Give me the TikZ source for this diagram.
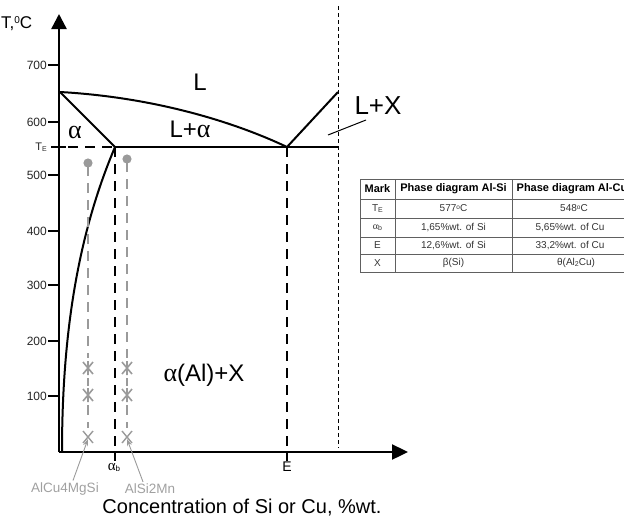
\documentclass[tikz,border=0pt]{standalone}
\usepackage{fontspec}
\setmainfont{Liberation Sans}
\newfontfamily\grk{Liberation Serif}
\usetikzlibrary{arrows.meta}
\definecolor{pingray}{HTML}{9A9A9A}
\definecolor{labgray}{HTML}{A0A0A0}
\definecolor{tabline}{HTML}{606060}
\definecolor{tabtext}{HTML}{333333}
\begin{document}
\begin{tikzpicture}[x=1pt,y=-1pt,
  axisline/.style={line width=2.4pt},
  curve/.style={line width=2pt},
  bdash/.style={line width=2.4pt, dash pattern=on 10pt off 7pt},
  gdash/.style={line width=2pt, pingray, dash pattern=on 10pt off 7pt},
  tdash/.style={line width=0.9pt, dash pattern=on 4pt off 3pt},
  ticklab/.style={font=\fontsize{12}{14}\selectfont, anchor=east, inner sep=0pt, text=black!85},
  phase/.style={font=\fontsize{24}{28}\selectfont, inner sep=0pt},
  glab/.style={font=\fontsize{13.5}{16}\selectfont, inner sep=0pt, text=labgray},
  garrow/.style={line width=0.9pt, pingray, -{Stealth[length=7pt,width=5pt]}},
  thead/.style={font=\bfseries\fontsize{11}{13}\selectfont, inner sep=0pt},
  tcell/.style={font=\fontsize{10}{12}\selectfont, inner sep=0pt, text=tabtext},
  tline/.style={line width=0.7pt, tabline}
]
\useasboundingbox (0,0) rectangle (624,517);
% axes
\coordinate (O) at (59,452);
\coordinate (ytip) at (59,14);
\coordinate (xtip) at (408,452);
\draw[axisline,-{Triangle[length=15pt,width=15pt]}] (O) -- (ytip);
\draw[axisline,-{Triangle[length=16pt,width=15pt]}] (O) -- (xtip);
% y ticks
\foreach \v/\y in {700/65,600/122,500/175,400/231,300/285,200/341,100/396}{
  \draw[line width=2pt] (48,\y) -- (59,\y);
  \node[ticklab] (t\v) at (47,\y) {\v};
}
\draw[line width=2pt] (51,147) -- (66,147);
\node[ticklab] (tTE) at (47,147) {\fontsize{11}{13}\selectfont T\raisebox{-1.5pt}{\fontsize{7}{8}\selectfont E}};
\node[inner sep=0pt, anchor=west, font=\fontsize{17}{20}\selectfont] (Tlab) at (1,24) {T,\raisebox{5pt}{\fontsize{10}{12}\selectfont 0}C};
% key points
\coordinate (A) at (60,92);     % melting point Al
\coordinate (B) at (115,147);   % alpha_b on TE
\coordinate (Eu) at (287,147);  % eutectic
\coordinate (R) at (338,92);    % right liquidus end
\coordinate (Rend) at (338,147);
% phase lines
\draw[curve] (A) .. controls (150,97) and (230,120) .. (Eu);
\draw[curve] (A) -- (B);
\draw[curve] (B) .. controls (82,225) and (62,320) .. (62,452);
\draw[curve] (Eu) -- (R);
\draw[line width=1.8pt] (B) -- (Rend);
\draw[bdash] (O |- B) ++(9,0) -- (B);
% vertical dashed lines
\coordinate (Bx) at (115,452);
\coordinate (Ex) at (287,452);
\draw[bdash] (B) -- (Bx);
\draw[bdash] (Eu) -- (Ex);
\draw[line width=2pt] (Bx) -- ++(0,9);
\draw[line width=2pt] (Ex) -- ++(0,9);
\draw[tdash] (338,6) -- (338,448);
% grey alloy lines
\foreach \xx/\yy/\nm in {88/163/L,127/159/R}{
  \fill[pingray] (\xx,\yy) circle (4.6pt);
  \draw[pingray,line width=2pt] (\xx,\yy) -- (\xx,\yy+13);
  \draw[gdash] (\xx,\yy+20) -- (\xx,358);
  \draw[gdash] (\xx,378) -- (\xx,386);
  \draw[gdash] (\xx,405) -- (\xx,428);
  \foreach \my in {368,395}{
    \draw[pingray,line width=1.6pt] (\xx-5,\my-6) -- (\xx+5,\my+6) (\xx+5,\my-6) -- (\xx-5,\my+6) (\xx,\my-7) -- (\xx,\my+7);
  }
  \draw[pingray,line width=1.4pt] (\xx-5,431) -- (\xx+5,443) (\xx+5,431) -- (\xx-5,443);
  \coordinate (pin\nm) at (\xx,439);
}
% labels
\node[phase] (Lz) at (200,82) {L};
\node[phase] (Lalpha) at (190,129) {L+{\grk\fontsize{26}{28}\selectfont α}};
\node[phase] (alpha) at (75,132) {{\grk\fontsize{26}{28}\selectfont α}};
\node[phase, font=\fontsize{26}{30}\selectfont] (LX) at (378,106) {L+X};
\node[phase] (aAlX) at (204,375) {{\grk\fontsize{26}{28}\selectfont α}(Al)+X};
\coordinate (lxa) at (328,135);
\coordinate (lxb) at (366,120);
\draw[line width=1pt] (lxa) -- (lxb);
\node[inner sep=0pt] (ab) at (114,467) {{\grk\fontsize{15}{17}\selectfont α}\raisebox{-1pt}{\fontsize{8}{9}\selectfont b}};
\node[inner sep=0pt, font=\fontsize{14}{16}\selectfont] (Elab) at (287,467) {E};
\node[glab] (al1) at (65,489) {AlCu4MgSi};
\node[glab] (al2) at (150,489) {AlSi2Mn};
\draw[garrow] (al1.north) ++(8,-2) coordinate (g1) (g1) -- (pinL);
\draw[garrow] (al2.north) ++(-7,-2) coordinate (g2) (g2) -- (pinR);
\node[inner sep=0pt, font=\fontsize{20}{23}\selectfont] (xlab) at (242,508) {Concentration of Si or Cu, \%wt.};
% table
\foreach \ty in {179,199,218,237,254,272}{ \draw[tline] (360,\ty) -- (680,\ty); }
\foreach \tx in {360,395,512}{ \draw[tline] (\tx,179) -- (\tx,272); }
\node[thead] (h1) at (377.5,189) {Mark};
\node[thead] (h2) at (453.5,189) {Phase diagram Al-Si};
\node[thead] (h3) at (572,189) {Phase diagram Al-Cu};
\node[tcell] (c11) at (377.5,208.5) {T\raisebox{-1pt}{\fontsize{7}{8}\selectfont E}};
\node[tcell] (c12) at (453.5,208.5) {577\raisebox{2.5pt}{\fontsize{6.5}{7}\selectfont o}C};
\node[tcell] (c13) at (574,208.5) {548\raisebox{2.5pt}{\fontsize{6.5}{7}\selectfont o}C};
\node[tcell] (c21) at (377.5,227.5) {{\grk α}\raisebox{-1pt}{\fontsize{7}{8}\selectfont b}};
\node[tcell] (c22) at (453.5,227.5) {1,65\%wt. of Si};
\node[tcell] (c23) at (570,227.5) {5,65\%wt. of Cu};
\node[tcell] (c31) at (377.5,245.5) {E};
\node[tcell] (c32) at (453.5,245.5) {12,6\%wt. of Si};
\node[tcell] (c33) at (570,245.5) {33,2\%wt. of Cu};
\node[tcell] (c41) at (377.5,263) {X};
\node[tcell] (c42) at (453.5,263) {β(Si)};
\node[tcell] (c43) at (576,263) {θ(Al\raisebox{-1pt}{\fontsize{7}{8}\selectfont 2}Cu)};
\end{tikzpicture}
\end{document}
